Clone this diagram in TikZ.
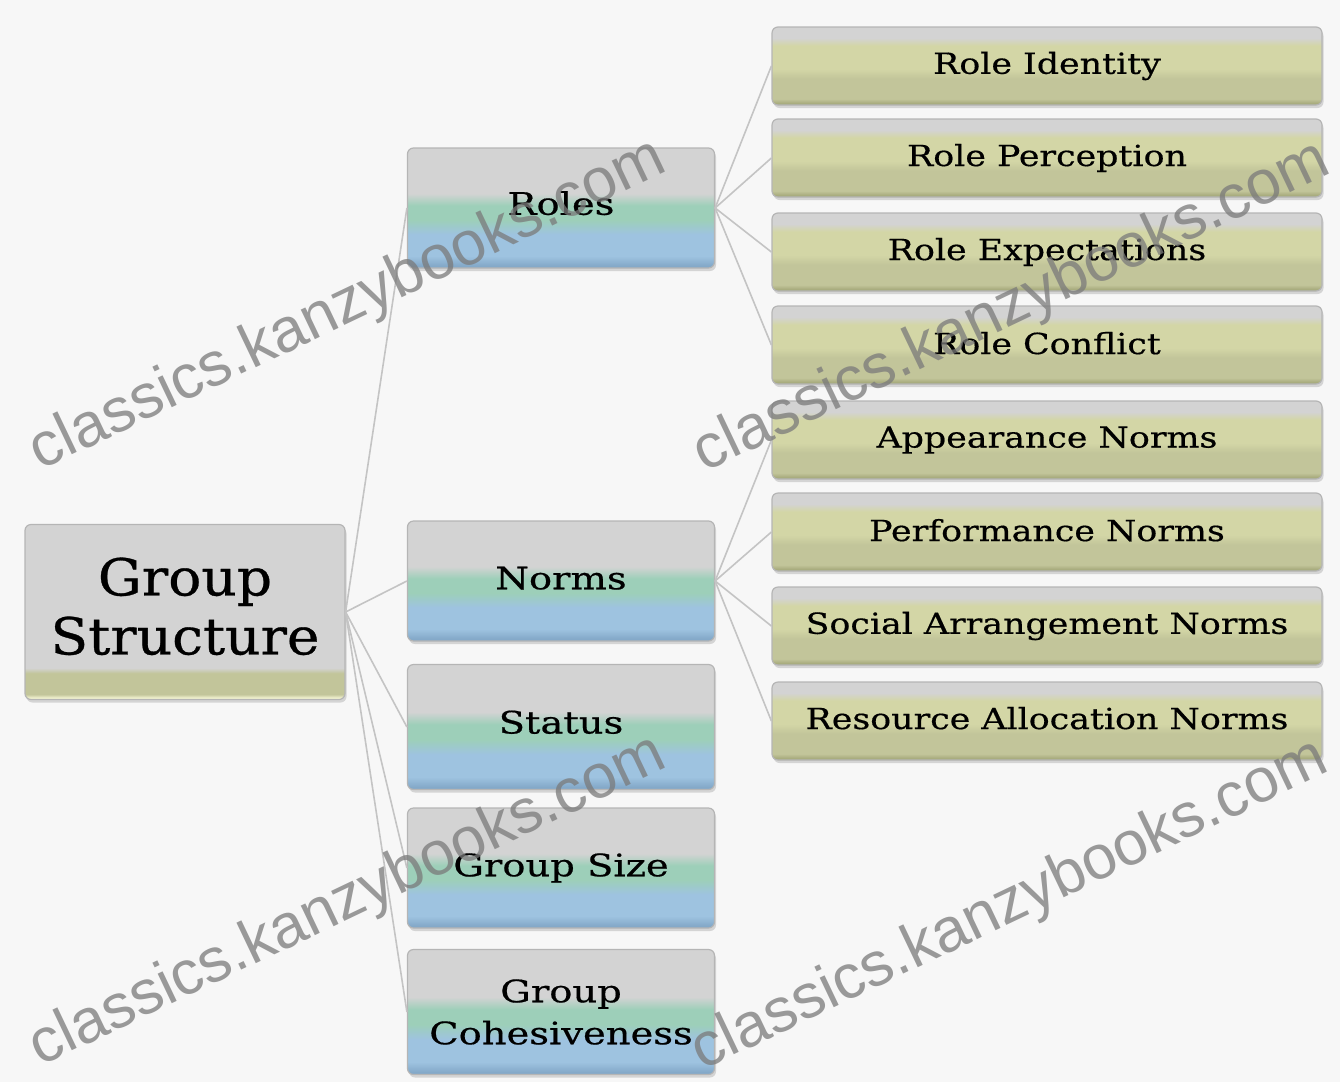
\documentclass[tikz,border=0pt]{standalone}
\usepackage{fontspec}
\setmainfont{DejaVu Serif}
\newfontfamily\boxfont[FakeStretch=1.2, FakeBold=0.5]{DejaVu Serif}
\newfontfamily\midfont[FakeStretch=1.24, FakeBold=0.5]{DejaVu Serif}
\newfontfamily\gsfont[FakeStretch=1.08, FakeBold=0.6]{DejaVu Serif}
\newfontfamily\wmfont{Liberation Sans}
\usetikzlibrary{shadows}
\definecolor{bgcol}{HTML}{F7F7F7}
\definecolor{mgray}{HTML}{D3D3D3}
\definecolor{kh1}{HTML}{D3D6A6}
\definecolor{kh2}{HTML}{C2C59A}
\definecolor{kh3}{HTML}{A6AA7C}
\definecolor{khl}{HTML}{F1F2CF}
\definecolor{mgreen}{HTML}{9DCFB9}
\definecolor{mblue}{HTML}{9EC3E0}
\definecolor{mdblue}{HTML}{84A9C9}
\definecolor{lnk}{HTML}{C4C4C4}
\definecolor{bord}{HTML}{B5B5B5}
\pgfdeclareverticalshading{midshade}{100bp}{color(0bp)=(mdblue); color(26bp)=(mdblue); color(30bp)=(mblue); color(39bp)=(mblue); color(45bp)=(mgreen); color(51bp)=(mgreen); color(56bp)=(mgray); color(100bp)=(mgray)}
\pgfdeclareverticalshading{rightshade}{100bp}{color(0bp)=(kh3); color(26bp)=(kh3); color(29bp)=(kh2); color(42bp)=(kh2); color(48bp)=(kh1); color(63bp)=(kh1); color(68bp)=(mgray); color(100bp)=(mgray)}
\pgfdeclareverticalshading{gsshade}{100bp}{color(0bp)=(khl); color(25.5bp)=(khl); color(26.5bp)=(kh2); color(32.5bp)=(kh2); color(34bp)=(mgray); color(100bp)=(mgray)}
\tikzset{
  x=1pt, y=-1pt,
  boxbase/.style={draw=bord, line width=1.2pt, rounded corners=6pt, align=center,
    inner sep=0pt, drop shadow={shadow xshift=1.5pt, shadow yshift=-3pt, fill=black!30, opacity=0.5}},
  gsbox/.style={boxbase, shading=gsshade, minimum width=320pt, minimum height=175pt,
    font=\gsfont\fontsize{51}{59}\selectfont},
  midbox/.style={boxbase, shading=midshade, minimum width=307pt, minimum height=120pt,
    font=\midfont\fontsize{31}{42}\selectfont},
  rightbox/.style={boxbase, shading=rightshade, minimum width=550pt, minimum height=78pt,
    font=\boxfont\fontsize{29}{34}\selectfont},
  link/.style={draw=lnk, line width=1.6pt},
  wm/.style={text=black!52, opacity=0.75, font=\wmfont\fontsize{62}{62}\selectfont, rotate=25.5}
}
\newcommand{\upby}[1]{\rule[-#1]{0pt}{1pt}}
\begin{document}
\begin{tikzpicture}
\fill[bgcol] (0,0) rectangle (1340,1082);
\useasboundingbox (0,0) rectangle (1340,1082);

% boxes
\node[gsbox] (gs) at (185,612) {Group\\Structure\upby{12pt}};

\node[midbox] (roles) at (561,208) {Roles\upby{10pt}};
\node[midbox] (norms) at (561,581) {Norms\upby{6pt}};
\node[midbox, minimum height=125pt] (status) at (561,727) {Status\upby{10pt}};
\node[midbox] (gsize) at (561,868) {Group Size\upby{6pt}};
\node[midbox, minimum height=125pt] (coh) at (561,1012) {Group\\Cohesiveness};

\node[rightbox] (ri) at (1047,66) {Role Identity\upby{6pt}};
\node[rightbox] (rp) at (1047,158) {Role Perception\upby{4pt}};
\node[rightbox] (rx) at (1047,252) {Role Expectations\upby{4pt}};
\node[rightbox] (rc) at (1047,345) {Role Conflict\upby{4pt}};
\node[rightbox] (an) at (1047,440) {Appearance Norms\upby{4pt}};
\node[rightbox] (pn) at (1047,532) {Performance Norms\upby{4pt}};
\node[rightbox] (sa) at (1047,626) {Social Arrangement Norms\upby{4pt}};
\node[rightbox] (ra) at (1047,721) {Resource Allocation Norms\upby{6pt}};

% links
\foreach \c in {roles,norms,status,gsize,coh}
  \draw[link] (gs.east) -- (\c.west);
\foreach \c in {ri,rp,rx,rc}
  \draw[link] (roles.east) -- (\c.west);
\foreach \c in {an,pn,sa,ra}
  \draw[link] (norms.east) -- (\c.west);

% watermarks
\node[wm] (wm1) at (348,306) {classics.kanzybooks.com};
\node[wm] (wm2) at (1012,308) {classics.kanzybooks.com};
\node[wm] (wm3) at (348,902) {classics.kanzybooks.com};
\node[wm] (wm4) at (1010,906) {classics.kanzybooks.com};
\end{tikzpicture}
\end{document}
